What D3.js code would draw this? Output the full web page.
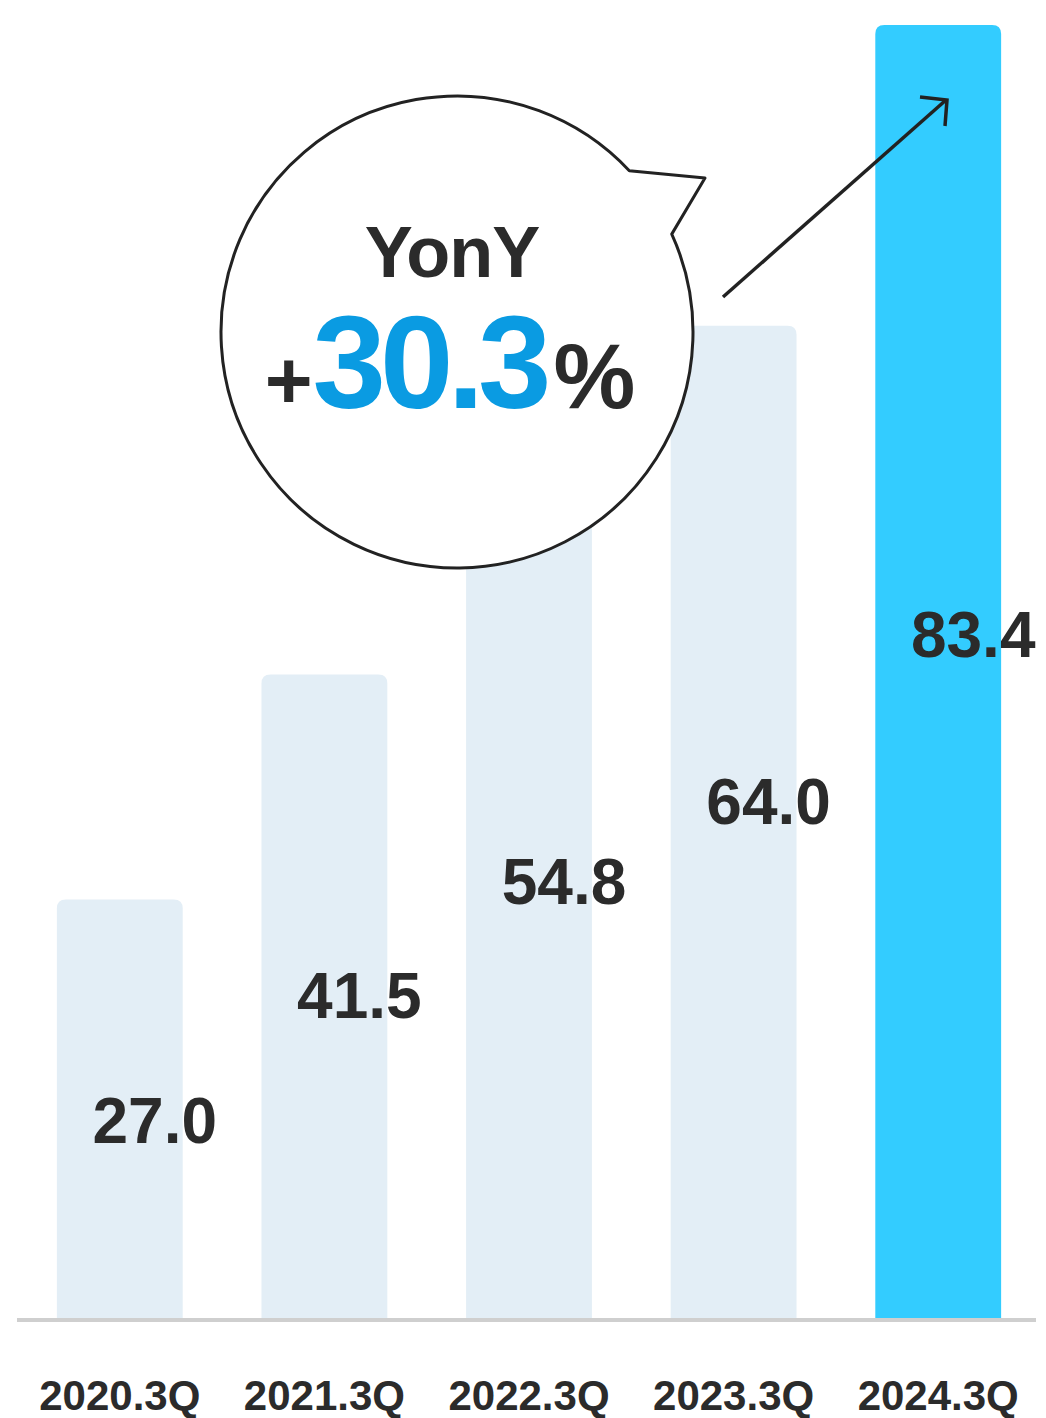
<!DOCTYPE html>
<html>
<head>
<meta charset="utf-8">
<script src="https://cdn.jsdelivr.net/npm/d3@7"></script>
<style>
  html, body { margin: 0; padding: 0; background: #fff; }
  text { font-family: "Liberation Sans", Arial, Helvetica, sans-serif; font-weight: bold; }
</style>
</head>
<body>
<div id="chart"></div>
<script>
// data
var categories = ["2020.3Q", "2021.3Q", "2022.3Q", "2023.3Q", "2024.3Q"];
var values = [27.0, 41.5, 54.8, 64.0, 83.4];
var highlighted = ["2024.3Q"];
var yoyTitle = "YonY";
var yoyParts = ["+", "30.3", "%"];

var width = 1046, height = 1418;
var baseline = 1320;

var svg = d3.select("#chart")
    .append("svg")
    .attr("width", width)
    .attr("height", height);

var x = d3.scaleBand()
    .domain(categories)
    .range([18, 1040])
    .paddingInner(0.385)
    .paddingOuter(0.19);

var y = d3.scaleLinear()
    .domain([0, d3.max(values)])
    .range([baseline - 2, 25]);

var rows = categories.map(function (c, i) { return { cat: c, value: values[i] }; });

// bars with rounded top corners
function barPath(d) {
    var x0 = x(d.cat), w = x.bandwidth(), y0 = y(d.value), y1 = y(0), r = 9;
    return "M" + x0 + "," + y1
        + "L" + x0 + "," + (y0 + r)
        + "Q" + x0 + "," + y0 + " " + (x0 + r) + "," + y0
        + "L" + (x0 + w - r) + "," + y0
        + "Q" + (x0 + w) + "," + y0 + " " + (x0 + w) + "," + (y0 + r)
        + "L" + (x0 + w) + "," + y1 + "Z";
}

svg.selectAll(".bar")
    .data(rows)
    .enter().append("path")
    .attr("class", "bar")
    .attr("d", barPath)
    .style("fill", function (d) { return highlighted.indexOf(d.cat) >= 0 ? "#33ccff" : "#e3eef6"; });

// value labels, a bit above mid bar and shifted right
svg.selectAll(".val")
    .data(rows)
    .enter().append("text")
    .attr("class", "val")
    .attr("x", function (d) { return x(d.cat) + x.bandwidth() / 2 + 35; })
    .attr("y", function (d) { return y(d.value * 0.556) + 58; })
    .attr("text-anchor", "middle")
    .style("font-size", "64px")
    .style("fill", "#2b2b2b")
    .text(function (d) { return d.value.toFixed(1); });

// x axis
var axis = svg.append("g")
    .attr("transform", "translate(0," + baseline + ")")
    .call(d3.axisBottom(x).tickSize(0).tickSizeOuter(0).tickPadding(60));

axis.select(".domain")
    .attr("d", "M17,0H1036")
    .style("stroke", "#cfcfcf")
    .style("stroke-width", 4);

axis.selectAll("text")
    .style("font-family", "'Liberation Sans', Arial, sans-serif")
    .style("font-weight", "bold")
    .style("font-size", "42px")
    .style("fill", "#2b2b2b");

// speech bubble with YonY growth
var cx = 457, cy = 332, R = 236;
var a1 = -24.5 * Math.PI / 180, a2 = -43.1 * Math.PI / 180;
var p1 = [cx + R * Math.cos(a1), cy + R * Math.sin(a1)];
var p2 = [cx + R * Math.cos(a2), cy + R * Math.sin(a2)];
var tip = [705, 178];

svg.append("path")
    .attr("d", "M" + p1[0] + "," + p1[1]
        + "A" + R + "," + R + " 0 1 1 " + p2[0] + "," + p2[1]
        + "L" + tip[0] + "," + tip[1]
        + "Z")
    .style("fill", "#fff")
    .style("stroke", "#222")
    .style("stroke-width", 3)
    .style("stroke-linejoin", "round");

svg.append("text")
    .attr("x", 452)
    .attr("y", 277)
    .attr("text-anchor", "middle")
    .attr("letter-spacing", "-1")
    .style("font-size", "72px")
    .style("fill", "#2b2b2b")
    .text(yoyTitle);

var yoy = svg.append("text")
    .attr("x", 450)
    .attr("y", 408)
    .attr("text-anchor", "middle");

yoy.append("tspan")
    .style("font-size", "82px")
    .style("fill", "#2b2b2b")
    .text(yoyParts[0]);
yoy.append("tspan")
    .attr("letter-spacing", "-6")
    .style("font-size", "132px")
    .style("fill", "#0a9be2")
    .text(yoyParts[1]);
yoy.append("tspan")
    .attr("dx", 8)
    .style("font-size", "92px")
    .style("fill", "#2b2b2b")
    .text(yoyParts[2]);

// trend arrow
svg.append("line")
    .attr("x1", 723).attr("y1", 297)
    .attr("x2", 946).attr("y2", 100)
    .style("stroke", "#222")
    .style("stroke-width", 3.5);

svg.append("path")
    .attr("d", "M920,97L947,100L945,126")
    .style("fill", "none")
    .style("stroke", "#222")
    .style("stroke-width", 3.5)
    .style("stroke-linejoin", "miter");
</script>
</body>
</html>
